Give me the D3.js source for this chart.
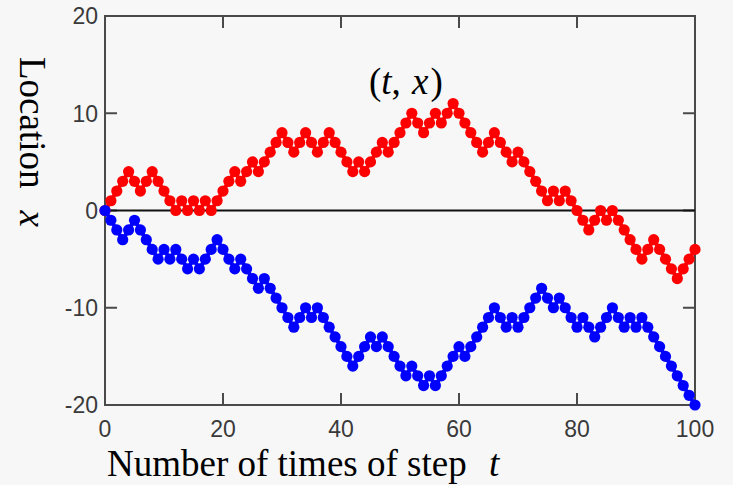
<!DOCTYPE html>
<html>
<head>
<meta charset="utf-8">
<script src="https://cdn.jsdelivr.net/npm/d3@7"></script>
<style>
  html, body { margin: 0; padding: 0; background: #f7f7f7; }
  svg { display: block; }
  .tick-label { font-family: "Liberation Sans", Arial, sans-serif; font-size: 23px; fill: #3a3a3a; }
  .serif { font-family: "Liberation Serif", "Times New Roman", serif; font-size: 37px; fill: #000; }
</style>
</head>
<body>
<svg id="chart"></svg>
<script>
// x-axis ticks and labels
const xTicks = [0, 20, 40, 60, 80, 100];
const yTicks = [-20, -10, 0, 10, 20];

// random walk positions, t = 0..100
const redWalk = [
  0, 1, 2, 3, 4, 3, 2, 3, 4, 3, 2, 1, 0, 1, 0, 1, 0, 1, 0, 1,
  2, 3, 4, 3, 4, 5, 4, 5, 6, 7, 8, 7, 6, 7, 8, 7, 6, 7, 8, 7,
  6, 5, 4, 5, 4, 5, 6, 7, 6, 7, 8, 9, 10, 9, 8, 9, 10, 9, 10, 11,
  10, 9, 8, 7, 6, 7, 8, 7, 6, 5, 6, 5, 4, 3, 2, 1, 2, 1, 2, 1,
  0, -1, -2, -1, 0, -1, 0, -1, -2, -3, -4, -5, -4, -3, -4, -5, -6, -7, -6, -5,
  -4
];
const blueWalk = [
  0, -1, -2, -3, -2, -1, -2, -3, -4, -5, -4, -5, -4, -5, -6, -5, -6, -5, -4, -3,
  -4, -5, -6, -5, -6, -7, -8, -7, -8, -9, -10, -11, -12, -11, -10, -11, -10, -11, -12, -13,
  -14, -15, -16, -15, -14, -13, -14, -13, -14, -15, -16, -17, -16, -17, -18, -17, -18, -17, -16, -15,
  -14, -15, -14, -13, -12, -11, -10, -11, -12, -11, -12, -11, -10, -9, -8, -9, -10, -9, -10, -11,
  -12, -11, -12, -13, -12, -11, -10, -11, -12, -11, -12, -11, -12, -13, -14, -15, -16, -17, -18, -19,
  -20
];

const width = 733;
const height = 485;
const margin = { top: 16, right: 38, bottom: 80, left: 105 };

const svg = d3.select("#chart").attr("width", width).attr("height", height);

svg.append("rect")
  .attr("width", width)
  .attr("height", height)
  .attr("fill", "#f7f7f7");

const x = d3.scaleLinear()
  .domain([0, 100])
  .range([margin.left, width - margin.right]);

const y = d3.scaleLinear()
  .domain([-20, 20])
  .range([height - margin.bottom, margin.top]);

const tickLen = 12;

// frame ticks, pointing inward on all four sides
const frame = svg.append("g").attr("stroke", "#4a4a4a").attr("stroke-width", 2);

xTicks.slice(1, -1).forEach((t) => {
  frame.append("line")
    .attr("x1", x(t)).attr("x2", x(t))
    .attr("y1", y(-20)).attr("y2", y(-20) - tickLen);
  frame.append("line")
    .attr("x1", x(t)).attr("x2", x(t))
    .attr("y1", y(20)).attr("y2", y(20) + tickLen);
});

yTicks.slice(1, -1).forEach((v) => {
  frame.append("line")
    .attr("x1", x(0)).attr("x2", x(0) + tickLen)
    .attr("y1", y(v)).attr("y2", y(v));
  frame.append("line")
    .attr("x1", x(100)).attr("x2", x(100) - tickLen)
    .attr("y1", y(v)).attr("y2", y(v));
});

frame.append("rect")
  .attr("x", x(0))
  .attr("y", y(20))
  .attr("width", x(100) - x(0))
  .attr("height", y(-20) - y(20))
  .attr("fill", "none");

// zero line
svg.append("line")
  .attr("x1", x(0)).attr("x2", x(100))
  .attr("y1", y(0)).attr("y2", y(0))
  .attr("stroke", "#111")
  .attr("stroke-width", 2);

// tick labels
svg.selectAll(".ylab")
  .data(yTicks)
  .enter()
  .append("text")
  .attr("class", "tick-label")
  .attr("x", x(0) - 7)
  .attr("y", (d) => y(d))
  .attr("dy", "0.36em")
  .attr("text-anchor", "end")
  .text((d) => d);

svg.selectAll(".xlab")
  .data(xTicks)
  .enter()
  .append("text")
  .attr("class", "tick-label")
  .attr("x", (d) => x(d))
  .attr("y", y(-20) + 24)
  .attr("dy", "0.36em")
  .attr("text-anchor", "middle")
  .text((d) => d);

// the two walks
const line = d3.line()
  .x((d, i) => x(i))
  .y((d) => y(d));

[[redWalk, "#ff0000"], [blueWalk, "#0000ff"]].forEach(([walk, color]) => {
  svg.append("path")
    .datum(walk)
    .attr("d", line)
    .attr("fill", "none")
    .attr("stroke", color)
    .attr("stroke-width", 4);

  svg.append("g")
    .selectAll("circle")
    .data(walk)
    .enter()
    .append("circle")
    .attr("cx", (d, i) => x(i))
    .attr("cy", (d) => y(d))
    .attr("r", 5.6)
    .attr("fill", color);
});

// axis titles
const xTitle = svg.append("text")
  .attr("class", "serif")
  .attr("x", 107)
  .attr("y", 476);
xTitle.append("tspan").text("Number of times of step");
xTitle.append("tspan").attr("x", 489).attr("font-style", "italic").text("t");

const yTitle = svg.append("text")
  .attr("class", "serif")
  .attr("transform", "translate(20,57) rotate(90)");
yTitle.append("tspan").text("Location");
yTitle.append("tspan").attr("dx", 22).attr("font-style", "italic").text("x");

const pointLabel = svg.append("text")
  .attr("class", "serif")
  .attr("x", 369)
  .attr("y", 94);
pointLabel.append("tspan").text("(");
pointLabel.append("tspan").attr("font-style", "italic").text("t");
pointLabel.append("tspan").text(",\u00a0");
pointLabel.append("tspan").attr("dx", 2).attr("font-style", "italic").text("x");
pointLabel.append("tspan").attr("dx", 2).text(")");
</script>
</body>
</html>
